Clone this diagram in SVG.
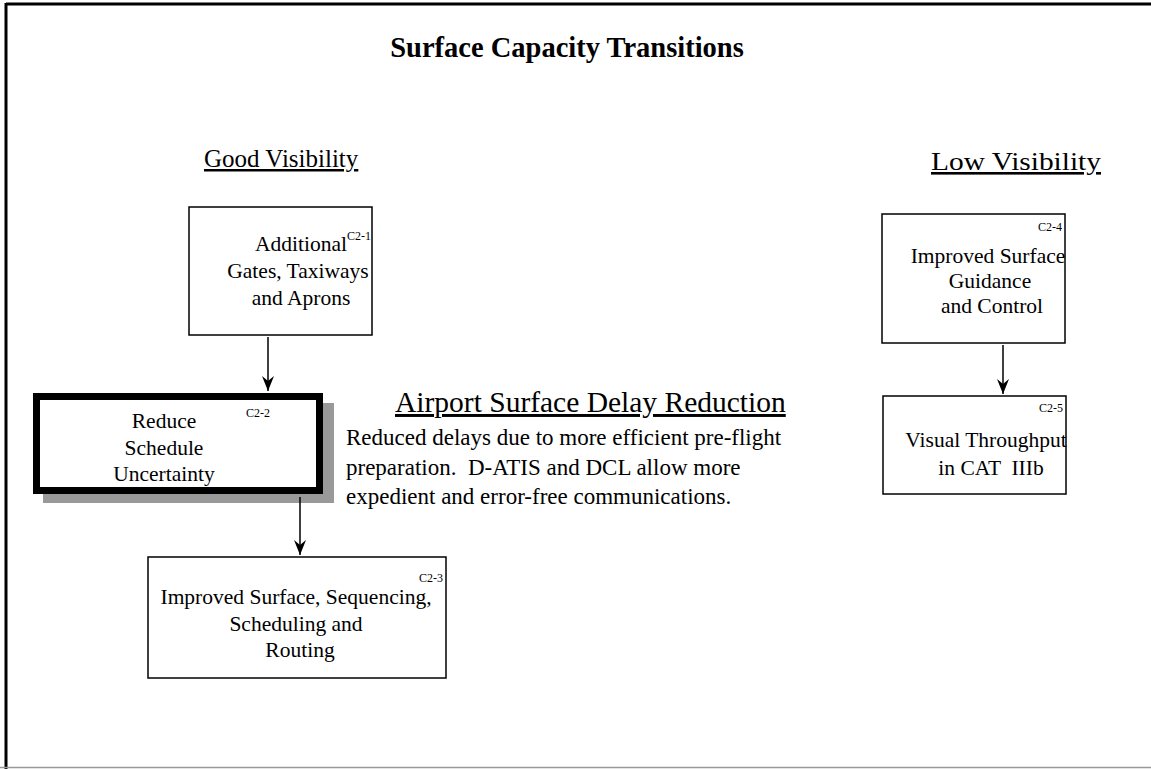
<svg xmlns="http://www.w3.org/2000/svg" width="1151" height="769" viewBox="0 0 1151 769">
<style>
text{font-family:"Liberation Serif","Times New Roman",serif;fill:#000}
.t{font-size:21.5px;text-anchor:middle}
.lab{font-size:12px;text-anchor:end}
.hd{font-size:25px;text-decoration:underline}
.body{font-size:23px}
.box{fill:#fff;stroke:#000;stroke-width:1.5}
.conn{stroke:#000;stroke-width:1.5;fill:none;marker-end:url(#ah)}
</style>
<defs>
<marker id="ah" markerWidth="16" markerHeight="12" refX="15" refY="6" orient="auto" markerUnits="userSpaceOnUse" viewBox="0 0 16 12">
<path d="M0,0 L15,6 L0,12 L5,6 Z" fill="#000"/>
</marker>
</defs>
<rect x="0" y="0" width="1151" height="769" fill="#fff"/>
<g id="frame">
<line x1="6" y1="4" x2="1151" y2="4" stroke="#000" stroke-width="3"/>
<line x1="6" y1="3" x2="6" y2="769" stroke="#000" stroke-width="3"/>
<line x1="0" y1="767.5" x2="1151" y2="767.5" stroke="#999" stroke-width="1.5"/>
</g>
<text id="title" x="567" y="57" style="font-size:28.5px;font-weight:bold;text-anchor:middle">Surface Capacity Transitions</text>
<text id="good" class="hd" x="204" y="167">Good Visibility</text>
<text id="low" class="hd" x="931" y="170" style="font-size:26px" textLength="170" lengthAdjust="spacingAndGlyphs">Low Visibility</text>
<g id="c2-1">
<rect class="box" x="189" y="207" width="183" height="128"/>
<text class="lab" x="371" y="240">C2-1</text>
<text class="t" x="301" y="251">Additional</text>
<text class="t" x="298" y="278">Gates, Taxiways</text>
<text class="t" x="301" y="305">and Aprons</text>
</g>
<g id="c2-2">
<rect x="43" y="403" width="291" height="100" fill="#999"/>
<rect x="36.5" y="396.5" width="283" height="94" fill="#fff" stroke="#000" stroke-width="7"/>
<text class="lab" x="270" y="417">C2-2</text>
<text class="t" x="164" y="428">Reduce</text>
<text class="t" x="164" y="455">Schedule</text>
<text class="t" x="164" y="481">Uncertainty</text>
</g>
<g id="c2-3">
<rect class="box" x="148" y="557" width="298" height="121"/>
<text class="lab" x="443" y="582">C2-3</text>
<text class="t" x="296" y="604">Improved Surface, Sequencing,</text>
<text class="t" x="296" y="631">Scheduling and</text>
<text class="t" x="300" y="657">Routing</text>
</g>
<g id="c2-4">
<rect class="box" x="882" y="214" width="183" height="129"/>
<text class="lab" x="1062" y="231">C2-4</text>
<text class="t" x="988" y="263">Improved Surface</text>
<text class="t" x="990" y="288">Guidance</text>
<text class="t" x="992" y="313">and Control</text>
</g>
<g id="c2-5">
<rect class="box" x="883" y="396" width="183" height="98"/>
<text class="lab" x="1063" y="412">C2-5</text>
<text class="t" x="986" y="447">Visual Throughput</text>
<text class="t" x="991" y="475" xml:space="preserve">in CAT  IIIb</text>
</g>
<g id="note">
<text class="hd" x="395" y="412" style="font-size:29.5px">Airport Surface Delay Reduction</text>
<text class="body" x="346" y="445">Reduced delays due to more efficient pre-flight</text>
<text class="body" x="346" y="475" xml:space="preserve">preparation.  D-ATIS and DCL allow more</text>
<text class="body" x="346" y="504">expedient and error-free communications.</text>
</g>
<g id="connectors">
<line class="conn" x1="268" y1="337" x2="268" y2="391"/>
<line class="conn" x1="300" y1="497" x2="300" y2="555"/>
<line class="conn" x1="1003" y1="345" x2="1003" y2="394"/>
</g>
</svg>
